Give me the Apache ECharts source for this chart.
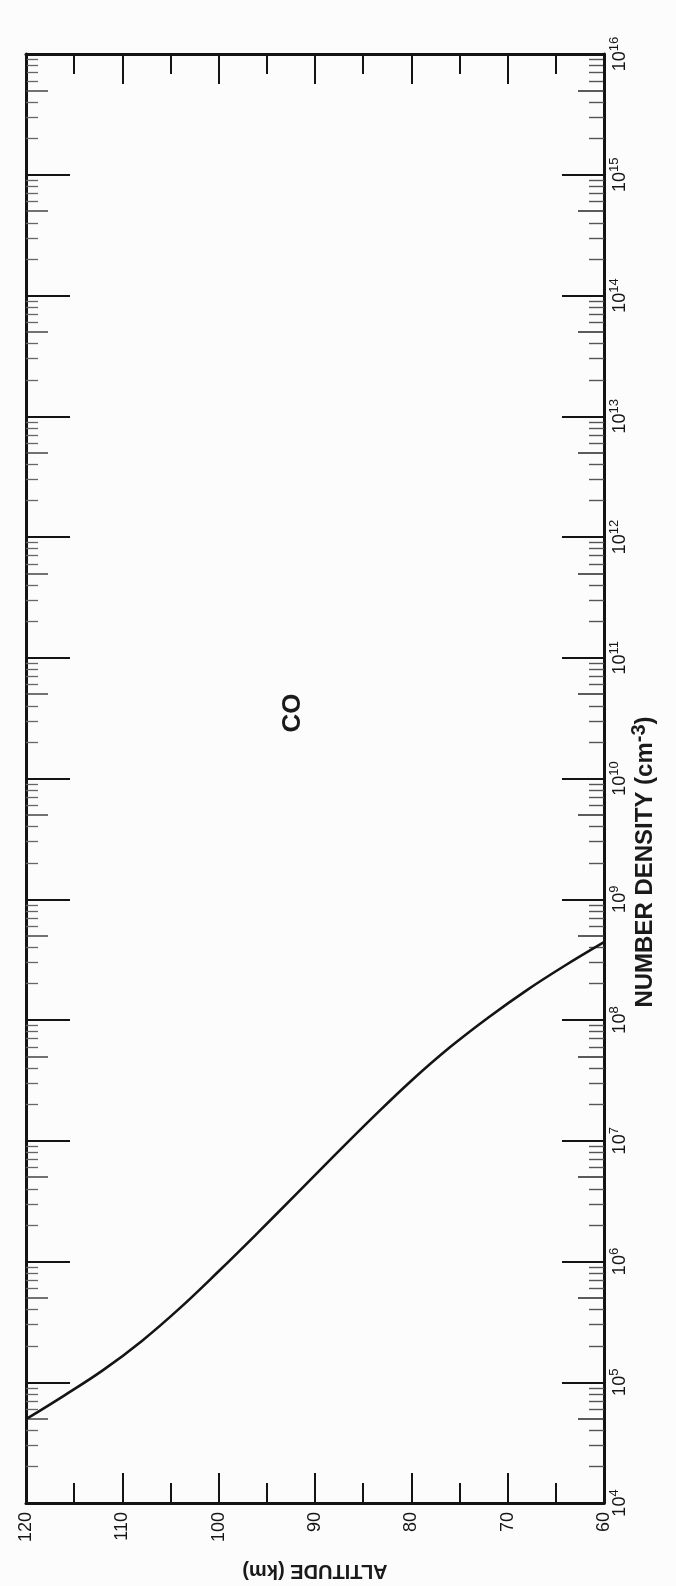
<!DOCTYPE html>
<html>
<head>
<meta charset="utf-8">
<script src="https://cdn.jsdelivr.net/npm/echarts@6/dist/echarts.min.js"></script>
<style>
  html, body { margin: 0; padding: 0; background: #fcfcfc; }
  #chart { width: 676px; height: 1586px; }
</style>
</head>
<body>
<div id="chart"></div>
<script>
// CO number density profile between 60 and 120 km (drawn turned on its side)
const altitudeKm = [120, 116, 112, 108, 104, 100, 96, 92, 88, 84, 80, 76, 72, 68, 64, 60];
const densityCO  = [4.95e4, 7.8e4, 1.26e5, 2.19e5, 4.13e5, 8.3e5, 1.71e6, 3.58e6,
                    7.52e6, 1.56e7, 3.14e7, 5.94e7, 1.05e8, 1.77e8, 2.84e8, 4.41e8];
const densityExponents = [4, 5, 6, 7, 8, 9, 10, 11, 12, 13, 14, 15, 16];
const speciesName = 'CO';
const altitudeTitle = 'ALTITUDE (km)';
const densityTitle = 'NUMBER DENSITY (cm';
const densityTitleExp = '-3';

const INK = '#141414';
const FONT = 'Liberation Sans, Arial, sans-serif';

// log-paper tick positions, expressed as exponents
const decadeTicks = densityExponents.slice();
const fiveTicks = densityExponents.slice(0, -1).map(e => e + Math.log10(5));
const otherTicks = [];
densityExponents.slice(0, -1).forEach(e => {
  [2, 3, 4, 6, 7, 8, 9].forEach(k => otherTicks.push(e + Math.log10(k)));
});

const curve = altitudeKm.map((a, i) => [a, densityCO[i]]);

function altitudeAxis(position, withLabels) {
  const ax = {
    type: 'value', min: 60, max: 120, interval: 10, inverse: true, position: position,
    axisLine: { show: true, onZero: false, lineStyle: { color: INK, width: 3 } },
    axisTick: { show: true, inside: true, length: 30, lineStyle: { color: INK, width: 2 } },
    minorTick: { show: true, splitNumber: 2, length: 20, lineStyle: { color: INK, width: 2 } },
    axisLabel: { show: withLabels, rotate: 90, margin: 9, fontSize: 18, color: '#151515', fontFamily: FONT },
    splitLine: { show: false }, minorSplitLine: { show: false }
  };
  if (withLabels) {
    ax.name = altitudeTitle;
    ax.nameLocation = 'middle';
    ax.nameRotate = 180;
    ax.nameGap = 58;
    ax.nameTextStyle = { fontSize: 20, fontWeight: 'bold', color: '#1a1a1a', fontFamily: FONT };
  }
  return ax;
}

function tickAxis(position, values, len, color, width, showLine, withLabels) {
  return {
    type: 'value', min: 4, max: 16, interval: 1, position: position,
    axisLine: { show: showLine, onZero: false, lineStyle: { color: INK, width: 3 } },
    axisTick: { show: true, inside: true, length: len, customValues: values,
                lineStyle: { color: color, width: width } },
    axisLabel: withLabels ? {
      show: true, rotate: 90, margin: 4, color: '#151515',
      formatter: v => '{b|10}{s|' + v + '}',
      rich: {
        b: { fontSize: 18, fontFamily: FONT, color: '#151515', verticalAlign: 'bottom', lineHeight: 21 },
        s: { fontSize: 13, fontFamily: FONT, color: '#151515', verticalAlign: 'top', lineHeight: 21 }
      }
    } : { show: false },
    splitLine: { show: false }
  };
}

const chart = echarts.init(document.getElementById('chart'), null, { renderer: 'canvas' });

chart.setOption({
  backgroundColor: '#fcfcfc',
  animation: false,
  grid: { left: 26, right: 72, top: 54, bottom: 82 },
  xAxis: [altitudeAxis('bottom', true), altitudeAxis('top', false)],
  yAxis: [
    { type: 'log', logBase: 10, min: 1e4, max: 1e16, position: 'right', show: false },
    tickAxis('right', decadeTicks, 42, INK, 2, true, true),
    tickAxis('right', fiveTicks, 26, '#333', 1.6, false, false),
    tickAxis('right', otherTicks, 15, '#555', 1.4, false, false),
    tickAxis('left', decadeTicks, 44, INK, 2, true, false),
    tickAxis('left', fiveTicks, 22, '#444', 1.5, false, false),
    tickAxis('left', otherTicks, 12, '#666', 1.3, false, false)
  ],
  series: [{
    name: speciesName,
    type: 'line',
    xAxisIndex: 0,
    yAxisIndex: 0,
    data: curve,
    smooth: 0.4,
    symbol: 'none',
    lineStyle: { color: INK, width: 2.6 }
  }],
  graphic: [
    {
      type: 'text', x: 643, y: 862, rotation: Math.PI / 2,
      style: {
        text: '{t|' + densityTitle + '}{e|' + densityTitleExp + '}{t|)}',
        align: 'center', verticalAlign: 'middle',
        rich: {
          t: { fontSize: 24, fontWeight: 'bold', fontFamily: FONT, fill: '#1a1a1a', verticalAlign: 'bottom', lineHeight: 28 },
          e: { fontSize: 20, fontWeight: 'bold', fontFamily: FONT, fill: '#1a1a1a', verticalAlign: 'top', lineHeight: 28 }
        }
      }
    },
    {
      type: 'text', x: 293, y: 713, rotation: Math.PI / 2,
      style: {
        text: speciesName, align: 'center', verticalAlign: 'middle',
        font: 'bold 26px ' + FONT, fill: '#1a1a1a'
      }
    }
  ]
});
</script>
</body>
</html>
